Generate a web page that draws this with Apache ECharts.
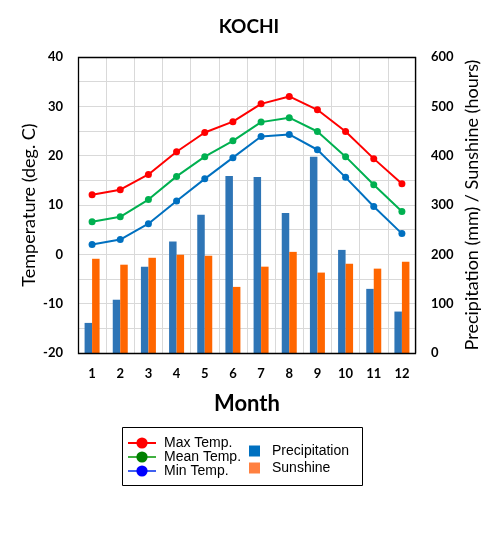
<!DOCTYPE html>
<html>
<head>
    <meta charset="utf-8">
    <title>KOCHI</title>
    <style>
        html, body { margin: 0; padding: 0; background: #fff; }
        #chart { width: 498px; height: 553px; }
    </style>
    <script src="https://cdn.jsdelivr.net/npm/echarts@6/dist/echarts.min.js"></script>
</head>
<body>
<div id="chart"></div>
<script>
    // data
    let months = ['1', '2', '3', '4', '5', '6', '7', '8', '9', '10', '11', '12']
    let maxTemp = [12.1, 13.1, 16.2, 20.8, 24.7, 26.9, 30.5, 32.0, 29.3, 24.9, 19.4, 14.3]
    let meanTemp = [6.6, 7.6, 11.1, 15.8, 19.8, 23.0, 26.8, 27.7, 24.9, 19.8, 14.1, 8.7]
    let minTemp = [2.0, 3.0, 6.2, 10.8, 15.3, 19.6, 23.9, 24.3, 21.2, 15.6, 9.7, 4.2]
    let precipitation = [61, 108, 175, 226, 280, 359, 357, 284, 398, 209, 130, 84]
    let sunshine = [191, 179, 193, 199, 197, 134, 175, 205, 163, 181, 171, 185]

    let font = 'Lato'

    function lineSeries(name, data, color) {
        return {
            name: name,
            type: 'line',
            data: data,
            symbol: 'circle',
            symbolSize: 7,
            lineStyle: {color: color, width: 2},
            itemStyle: {color: color},
            z: 5
        }
    }

    let chart = echarts.init(document.getElementById('chart'))
    chart.setOption({
        animation: false,
        title: {
            text: 'KOCHI',
            left: 'center',
            top: 12,
            textStyle: {fontFamily: font, fontSize: 19, fontWeight: 'bold', color: '#000'}
        },
        grid: {
            left: 78, top: 57, width: 338, height: 296
        },
        legend: [{
            orient: 'vertical',
            left: 127, top: 436, padding: 0,
            itemWidth: 28, itemHeight: 14, itemGap: 0,
            textStyle: {fontFamily: 'Liberation Sans', fontSize: 14, color: '#000', padding: [0, 0, 0, 3]},
            data: [
                {name: 'Max Temp.', itemStyle: {color: '#FF0000'}, lineStyle: {color: '#FF0000'}},
                {name: 'Mean Temp.', itemStyle: {color: '#008000'}, lineStyle: {color: '#40B040'}},
                {name: 'Min Temp.', itemStyle: {color: '#0000FF'}, lineStyle: {color: '#4060F0'}}
            ]
        }, {
            orient: 'vertical',
            left: 249, top: 444, padding: 0,
            itemWidth: 11, itemHeight: 11, itemGap: 3,
            textStyle: {fontFamily: 'Liberation Sans', fontSize: 14, color: '#000', padding: [0, 0, 0, 7]},
            data: [
                {name: 'Precipitation', icon: 'rect', itemStyle: {color: '#0070C0'}},
                {name: 'Sunshine', icon: 'rect', itemStyle: {color: '#FF8040'}}
            ]
        }],
        graphic: [{
            type: 'rect',
            shape: {x: 122.5, y: 427.5, width: 240, height: 58},
            style: {fill: 'none', stroke: '#000', lineWidth: 1},
            silent: true
        }, {
            // plot frame
            type: 'rect',
            shape: {x: 78.5, y: 57.5, width: 337, height: 296},
            style: {fill: 'none', stroke: '#000', lineWidth: 1.3},
            silent: true,
            z: 100
        }],
        xAxis: {
            type: 'category',
            data: months,
            name: 'Month',
            nameLocation: 'middle',
            nameGap: 40,
            nameTextStyle: {fontFamily: font, fontSize: 22, fontWeight: 'bold', color: '#000'},
            axisLine: {show: false},
            axisTick: {show: false},
            axisLabel: {fontFamily: font, fontSize: 13, fontWeight: 'bold', color: '#000', margin: 14},
            splitLine: {show: true, interval: 0, lineStyle: {color: '#d9d9d9', width: 1}}
        },
        yAxis: [{
            type: 'value',
            min: -20, max: 40, interval: 5,
            name: 'Temperature (deg. C)',
            nameLocation: 'middle',
            nameGap: 40,
            nameMoveOverlap: false,
            nameTextStyle: {fontFamily: font, fontSize: 18, color: '#000'},
            axisLine: {show: false},
            axisTick: {show: false},
            axisLabel: {
                fontFamily: font, fontSize: 13, fontWeight: 'bold', color: '#000', margin: 15,
                formatter: function (v) { return v % 10 === 0 ? String(v) : '' }
            },
            splitLine: {show: true, lineStyle: {color: '#d9d9d9', width: 1}}
        }, {
            type: 'value',
            min: 0, max: 600, interval: 50,
            name: 'Precipitation (mm) / Sunshine (hours)',
            nameLocation: 'middle',
            nameGap: 47,
            nameMoveOverlap: false,
            nameTextStyle: {fontFamily: font, fontSize: 18, color: '#000'},
            axisLine: {show: false},
            axisTick: {show: false},
            axisLabel: {
                fontFamily: font, fontSize: 13, fontWeight: 'bold', color: '#000', margin: 15,
                formatter: function (v) { return v % 100 === 0 ? String(v) : '' }
            },
            splitLine: {show: false}
        }],
        series: [
            {
                name: 'Precipitation',
                type: 'bar',
                yAxisIndex: 1,
                data: precipitation,
                barWidth: 7.5,
                barGap: '0%',
                itemStyle: {color: '#2E75B6'}
            },
            {
                name: 'Sunshine',
                type: 'bar',
                yAxisIndex: 1,
                data: sunshine,
                barWidth: 7.5,
                barGap: '0%',
                itemStyle: {color: '#FF6600'}
            },
            lineSeries('Max Temp.', maxTemp, '#FF0000'),
            lineSeries('Mean Temp.', meanTemp, '#00B050'),
            lineSeries('Min Temp.', minTemp, '#0070C0')
        ]
    })
</script>
</body>
</html>
